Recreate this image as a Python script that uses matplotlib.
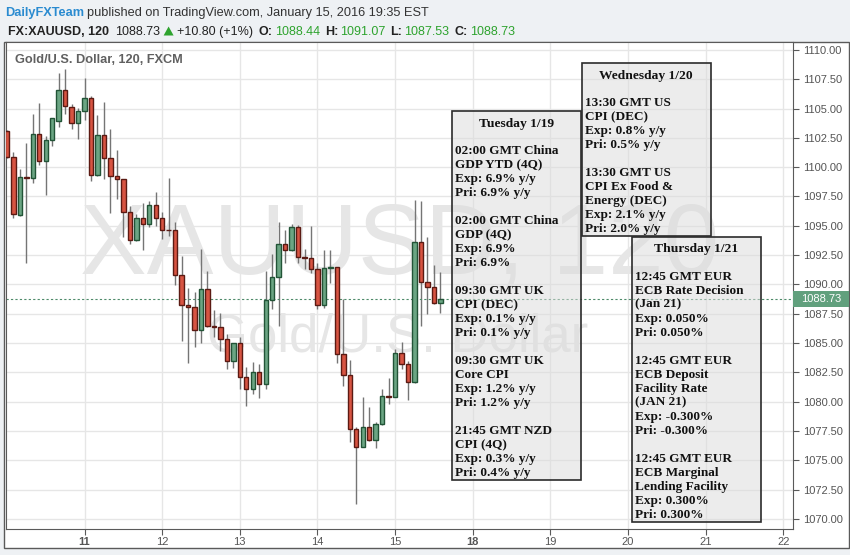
import matplotlib
matplotlib.use('Agg')
import matplotlib.pyplot as plt
import matplotlib.transforms as mtransforms
from matplotlib.patches import Rectangle, Polygon
import numpy as np

# FX:XAUUSD, 120 min bars (FXCM)
opens = [1103.06, 1100.85, 1095.92, 1099.14, 1099.05, 1102.81, 1100.50, 1102.30, 1103.92, 1106.56,
         1105.17, 1103.75, 1104.77, 1105.88, 1099.31, 1102.72, 1100.76, 1099.22, 1098.97, 1096.15,
         1093.76, 1095.64, 1095.13, 1096.75, 1095.64, 1094.67, 1094.62, 1090.78, 1088.22, 1088.05,
         1086.08, 1089.58, 1086.42, 1086.34, 1085.32, 1083.50, 1084.97, 1082.07, 1081.05, 1082.50,
         1081.48, 1088.67, 1090.61, 1093.45, 1092.91, 1094.87, 1092.31, 1092.23, 1091.35, 1088.27,
         1091.38, 1091.46, 1084.04, 1082.24, 1077.69, 1076.16, 1077.81, 1076.70, 1078.06, 1080.45,
         1080.40, 1084.12, 1083.18, 1081.70, 1093.59, 1090.18, 1089.81, 1088.44]
highs = [1103.15, 1101.30, 1099.85, 1102.07, 1104.54, 1105.48, 1102.66, 1104.20, 1108.01, 1108.35,
         1105.37, 1105.03, 1107.61, 1106.08, 1104.46, 1105.57, 1103.26, 1101.47, 1098.99, 1096.69,
         1095.98, 1096.95, 1097.12, 1097.89, 1096.18, 1099.08, 1095.30, 1092.43, 1089.67, 1089.35,
         1093.02, 1091.15, 1087.82, 1087.53, 1085.77, 1085.00, 1085.54, 1082.98, 1083.38, 1083.21,
         1091.15, 1092.60, 1095.30, 1094.64, 1095.13, 1095.04, 1093.02, 1094.99, 1091.86, 1092.94,
         1092.94, 1091.50, 1088.73, 1083.55, 1077.81, 1080.40, 1079.54, 1078.29, 1081.08, 1081.99,
         1084.46, 1085.06, 1083.47, 1097.20, 1097.12, 1094.05, 1091.66, 1091.07]
lows = [1100.80, 1095.70, 1095.87, 1091.86, 1098.68, 1100.22, 1097.66, 1101.84, 1103.46, 1104.57,
        1103.26, 1102.41, 1104.06, 1098.85, 1099.28, 1099.02, 1096.12, 1097.32, 1094.08, 1093.42,
        1093.70, 1092.97, 1094.87, 1095.01, 1093.90, 1094.16, 1089.92, 1085.20, 1083.33, 1084.69,
        1084.97, 1086.40, 1085.54, 1084.35, 1082.78, 1082.90, 1081.05, 1079.66, 1080.68, 1080.34,
        1081.05, 1087.90, 1086.45, 1091.80, 1092.88, 1091.86, 1091.32, 1091.00, 1087.93, 1087.99,
        1090.15, 1083.33, 1081.36, 1076.58, 1071.27, 1076.10, 1076.65, 1076.07, 1078.00, 1079.80,
        1080.35, 1082.78, 1080.14, 1081.62, 1086.45, 1087.51, 1088.35, 1087.53]
closes = [1100.85, 1095.98, 1099.14, 1099.06, 1102.81, 1100.50, 1102.30, 1104.17, 1106.56, 1105.20,
          1103.75, 1104.77, 1105.88, 1099.31, 1102.72, 1100.76, 1099.22, 1098.97, 1096.15, 1093.76,
          1095.64, 1095.13, 1096.75, 1095.64, 1094.67, 1094.60, 1090.78, 1088.22, 1088.05, 1086.08,
          1089.58, 1086.42, 1086.36, 1085.32, 1083.50, 1084.97, 1082.07, 1081.05, 1082.50, 1081.48,
          1088.67, 1090.61, 1093.45, 1092.91, 1094.87, 1092.31, 1092.25, 1091.35, 1088.27, 1091.38,
          1091.45, 1084.04, 1082.24, 1077.69, 1076.16, 1077.81, 1076.70, 1078.06, 1080.45, 1080.40,
          1084.12, 1083.18, 1081.70, 1093.59, 1090.18, 1089.81, 1088.39, 1088.73]

# time axis: 12 two-hour bars per day, first label ("11") at bar 12
day_labels = ['11', '12', '13', '14', '15', '18', '19', '20', '21', '22']
bold_days = ['11', '18']
bars_per_day = 12

last_price = 1088.73

# economic calendar boxes
tue_title = 'Tuesday 1/19'
tue_lines = ['02:00 GMT China', 'GDP YTD (4Q)', 'Exp: 6.9% y/y', 'Pri: 6.9% y/y', '',
             '02:00 GMT China', 'GDP (4Q)', 'Exp: 6.9%', 'Pri: 6.9%', '',
             '09:30 GMT UK', 'CPI (DEC)', 'Exp: 0.1% y/y', 'Pri: 0.1% y/y', '',
             '09:30 GMT UK', 'Core CPI', 'Exp: 1.2% y/y', 'Pri: 1.2% y/y', '',
             '21:45 GMT NZD', 'CPI (4Q)', 'Exp: 0.3% y/y', 'Pri: 0.4% y/y']
wed_title = 'Wednesday 1/20'
wed_lines = ['13:30 GMT US', 'CPI (DEC)', 'Exp: 0.8% y/y', 'Pri: 0.5% y/y', '',
             '13:30 GMT US', 'CPI Ex Food &', 'Energy (DEC)', 'Exp: 2.1% y/y', 'Pri: 2.0% y/y']
thu_title = 'Thursday 1/21'
thu_lines = ['12:45 GMT EUR', 'ECB Rate Decision', '(Jan 21)', 'Exp: 0.050%', 'Pri: 0.050%', '',
             '12:45 GMT EUR', 'ECB Deposit', 'Facility Rate', '(JAN 21)', 'Exp: -0.300%', 'Pri: -0.300%', '',
             '12:45 GMT EUR', 'ECB Marginal', 'Lending Facility', 'Exp: 0.300%', 'Pri: 0.300%']

plt.rcParams['font.family'] = ['Liberation Sans', 'DejaVu Sans']

W, H = 850, 555
fig = plt.figure(figsize=(W / 100, H / 100), dpi=100, facecolor='#eef1f4')
renderer = fig.canvas.get_renderer()
# pixel coords measured from the top-left corner
px = mtransforms.Affine2D().scale(1 / W, -1 / H).translate(0, 1) + fig.transFigure

# white chart frame (plot + price scale + time scale)
fig.add_artist(Rectangle((4, 42), 845, 506, transform=px, facecolor='white',
                         edgecolor='#5a5a5a', lw=1, zorder=-1))

ax = fig.add_axes([6 / W, 1 - 529 / H, (793 - 6) / W, (529 - 42) / H])
ax.set_xlim(-0.14, 121.5)
ax.set_ylim(1069.13, 1110.68)
ax.set_axisbelow(True)
for s in ax.spines.values():
    s.set_color('#5a5a5a')

o = np.array(opens)
h = np.array(highs)
l = np.array(lows)
c = np.array(closes)
idx = np.arange(len(o))
up = c >= o

ax.vlines(idx, l, h, color='#757575', lw=1, zorder=2)
ax.bar(idx[up], (c - o)[up], bottom=o[up], width=0.68, color='#6ba583',
       edgecolor='#225437', lw=1, zorder=3)
ax.bar(idx[~up], (o - c)[~up], bottom=c[~up], width=0.68, color='#d75442',
       edgecolor='#5b1a13', lw=1, zorder=3)

ax.axhline(last_price, color='#4e8b6a', ls=(0, (2, 2)), lw=0.8, zorder=2)

# axes / grid
ax.yaxis.tick_right()
yt = np.arange(1070, 1110.01, 2.5)
ax.set_yticks(yt)
ax.set_yticklabels(['%.2f' % v for v in yt])
xt = [bars_per_day * (k + 1) for k in range(len(day_labels))]
ax.set_xticks(xt)
ax.set_xticklabels(day_labels)
for t in ax.get_xticklabels():
    if t.get_text() in bold_days:
        t.set_fontweight('bold')
ax.tick_params(axis='both', colors='#5a5a5a', labelcolor='#555555', labelsize=8, length=4, width=0.8)
ax.tick_params(axis='x', pad=2)
ax.tick_params(axis='y', pad=3)
ax.grid(True, color='#e6e6e6', lw=1)

# watermarks
ax.text(400, 248, 'XAUUSD, 120', transform=px, ha='center', va='center', fontsize=72,
        color='#e6e6e6', zorder=0.3)
ax.text(398, 337, 'Gold/U.S. Dollar', transform=px, ha='center', va='center', fontsize=38,
        color='#e6e6e6', zorder=0.3)

fig.text(15, 60, 'Gold/U.S. Dollar, 120, FXCM', transform=px, ha='left', va='center',
         fontsize=9.2, weight='bold', color='#606060')

# last price tag on the price scale
fig.add_artist(Rectangle((793, 291), 56, 16, transform=px, facecolor='#61a07d',
                         edgecolor='none', zorder=4))
fig.text(821, 299.5, '%.2f' % last_price, transform=px, ha='center', va='center',
         fontsize=8, color='white', zorder=5)

# header
fig.text(5.2, 16, 'DailyFXTeam', transform=px, ha='left', va='baseline', fontsize=9.2,
         weight='bold', color='#2a8bd0')
fig.text(86.6, 16, 'published on TradingView.com, January 15, 2016 19:35 EST', transform=px,
         ha='left', va='baseline', fontsize=9.2, color='#333333')

green = '#2ea32e'
dark = '#222222'
# (text, colour, weight, gap after in px); None marks the up-triangle
header2 = [('FX:XAUUSD, 120', dark, 'bold', 6), ('1088.73', dark, 'normal', 4), (None, green, '', 3),
           ('+10.80 (+1%)', dark, 'normal', 6), ('O:', dark, 'bold', 2), ('1088.44', green, 'normal', 5),
           ('H:', dark, 'bold', 2), ('1091.07', green, 'normal', 5), ('L:', dark, 'bold', 2),
           ('1087.53', green, 'normal', 5), ('C:', dark, 'bold', 2), ('1088.73', green, 'normal', 0)]
hx, hy = 7.6, 35
for txt, col, wt, gap in header2:
    if txt is None:
        fig.add_artist(Polygon([(hx, hy + 0.5), (hx + 10, hy + 0.5), (hx + 5, hy - 8.5)], closed=True,
                               transform=px, facecolor=col, edgecolor='none'))
        hx += 10 + gap
        continue
    t = fig.text(hx, hy, txt, transform=px, ha='left', va='baseline', fontsize=9.0,
                 weight=wt, color=col)
    hx += t.get_window_extent(renderer).width + gap


def event_box(x0, top, title, lines):
    title_y = top + 11
    first_y = title_y + 27.5
    bottom = first_y + (len(lines) - 1) * 14 + 8.5
    fig.add_artist(Rectangle((x0, top), 129, bottom - top, transform=px,
                             facecolor=(0.86, 0.86, 0.86, 0.5), edgecolor='#2b2b2b',
                             lw=1.2, zorder=5))
    fig.text(x0 + 64.5, title_y + 4.5, title, transform=px, ha='center', va='baseline',
             family='Liberation Serif', weight='bold', fontsize=9.7, color='#111111', zorder=6)
    for k, s in enumerate(lines):
        if s:
            fig.text(x0 + 3.5, first_y + 14 * k + 4.5, s, transform=px, ha='left',
                     va='baseline', family='Liberation Serif', weight='bold',
                     fontsize=9.5, color='#111111', zorder=6)


event_box(451.7, 111, tue_title, tue_lines)
event_box(581.7, 63.3, wed_title, wed_lines)
event_box(631.7, 236.7, thu_title, thu_lines)

fig.savefig('out.png', dpi=100, facecolor=fig.get_facecolor())
